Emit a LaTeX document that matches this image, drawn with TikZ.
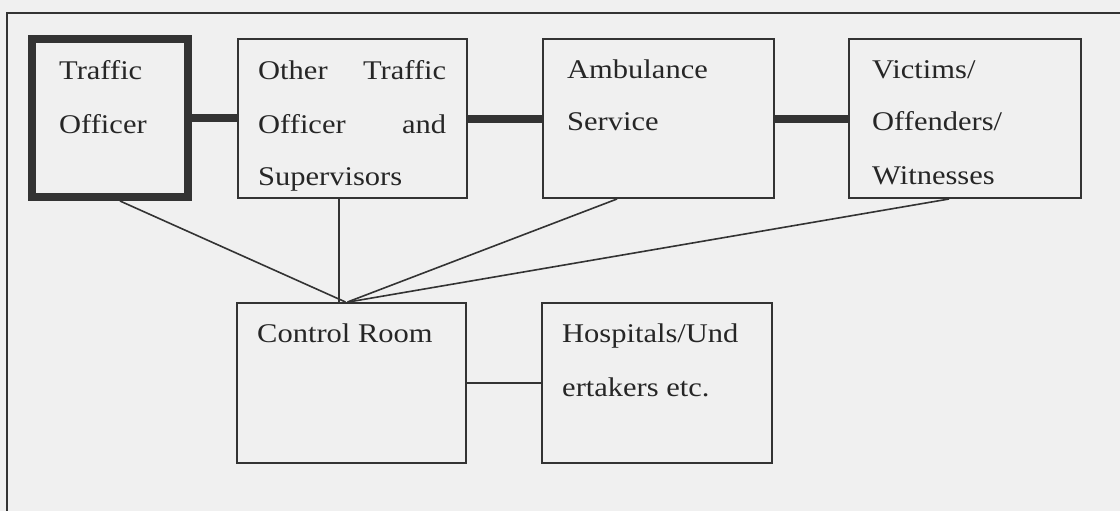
\documentclass[tikz,border=0pt]{standalone}
\usepackage{fontspec}
\setmainfont{Liberation Serif}[FakeStretch=1.13]
\begin{document}
\begin{tikzpicture}[x=1pt,y=-1pt,
  ink/.style={draw=black!80},
  box/.style={ink, line width=2pt, rectangle, inner sep=0pt},
  mainbox/.style={box, line width=8pt},
  thin link/.style={ink, line width=1.6pt},
  thick link/.style={ink, line width=8pt},
  label/.style={inner sep=0pt, anchor=base west, text=black!85, font=\fontsize{27}{27}\selectfont}]
  % page background and outer frame
  \fill[black!6] (0,0) rectangle (1120,511);
  \useasboundingbox (0,0) rectangle (1120,511);
  \draw[ink, line width=2pt] (7,511) -- (7,13) -- (1120,13);

  % boxes of the upper row
  \node[mainbox, minimum width=156pt, minimum height=158pt] (to) at (110,118) {};
  \node[box, minimum width=229pt, minimum height=159pt] (other) at (352.5,118.5) {};
  \node[box, minimum width=231pt, minimum height=159pt] (amb) at (658.5,118.5) {};
  \node[box, minimum width=232pt, minimum height=159pt] (vic) at (965,118.5) {};

  % boxes of the lower row
  \node[box, minimum width=229pt, minimum height=160pt] (ctrl) at (351.5,383) {};
  \node[box, minimum width=230pt, minimum height=160pt] (hosp) at (657,383) {};

  % texts
  \node[label] (toa) at (59,80) {Traffic};
  \node[label] (tob) at (59,133) {Officer};
  \node[label] (ota) at (258,80) {\makebox[188pt][l]{Other\hfill Traffic}};
  \node[label] (otb) at (258,133) {\makebox[188pt][l]{Officer\hfill and}};
  \node[label] (otc) at (258,185) {Supervisors};
  \node[label] (ama) at (567,79) {Ambulance};
  \node[label] (amb2) at (567,131) {Service};
  \node[label] (vica) at (872,79) {Victims/};
  \node[label] (vicb) at (872,131) {Offenders/};
  \node[label] (vicc) at (872,184) {Witnesses};
  \node[label] (ctrla) at (257,342) {Control Room};
  \node[label] (hospa) at (562,342) {Hospitals/Und};
  \node[label] (hospb) at (562,396) {ertakers etc.};

  % thick links along the upper row
  \draw[thick link] (to.east) -- (to.east -| other.west);
  \draw[thick link] (other.east) -- (amb.west);
  \draw[thick link] (amb.east) -- (vic.west);

  % links down to the control room
  \coordinate (hub) at ([xshift=-6pt]ctrl.north);
  \draw[thin link] ([xshift=10pt]to.south) -- (hub);
  \draw[thin link] ([xshift=-13.5pt]other.south) -- ([xshift=-12.5pt]ctrl.north);
  \draw[thin link] ([xshift=-41.5pt]amb.south) -- ([xshift=-4pt]ctrl.north);
  \draw[thin link] ([xshift=-16pt]vic.south) -- ([xshift=-3pt]ctrl.north);

  % control room to hospitals
  \draw[thin link] (ctrl.east) -- (hosp.west);
\end{tikzpicture}
\end{document}
